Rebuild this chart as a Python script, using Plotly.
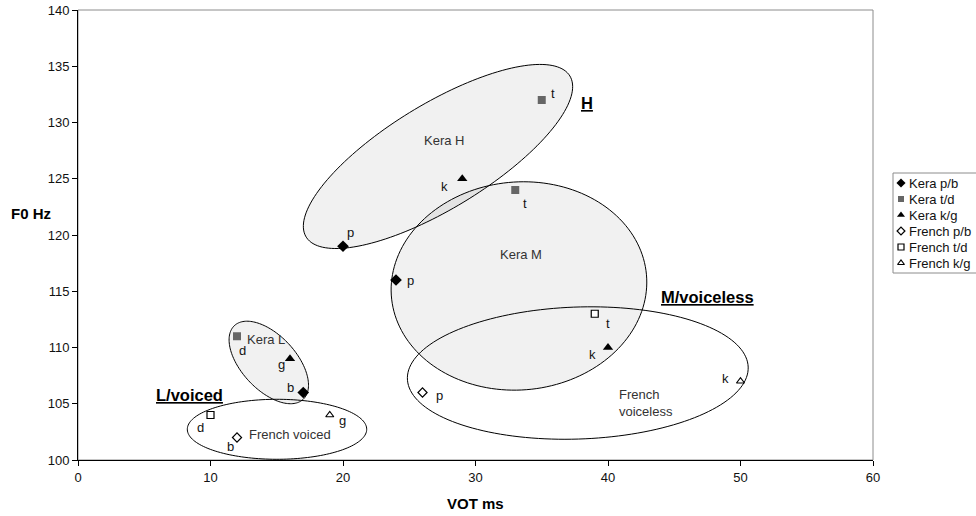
import numpy as np
import plotly.graph_objects as go

# ---- data: VOT (ms) and F0 (Hz) per stop consonant ----
kera_pb_vot = [20, 24, 17]
kera_pb_f0 = [119, 116, 106]
kera_pb_lab = ["p", "p", "b"]

kera_td_vot = [35, 33, 12]
kera_td_f0 = [132, 124, 111]
kera_td_lab = ["t", "t", "d"]

kera_kg_vot = [29, 40, 16]
kera_kg_f0 = [125, 110, 109]
kera_kg_lab = ["k", "k", "g"]

french_pb_vot = [26, 12]
french_pb_f0 = [106, 102]
french_pb_lab = ["p", "b"]

french_td_vot = [39, 10]
french_td_f0 = [113, 104]
french_td_lab = ["t", "d"]

french_kg_vot = [50, 19]
french_kg_f0 = [107, 104]
french_kg_lab = ["k", "g"]

series_names = ["Kera p/b", "Kera t/d", "Kera k/g", "French p/b", "French t/d", "French k/g"]

x_range = [0, 60]
y_range = [100, 140]
x_ticks = [0, 10, 20, 30, 40, 50, 60]
y_ticks = [100, 105, 110, 115, 120, 125, 130, 135, 140]

# ---- page geometry ----
W, H = 976, 516
ML, MT, MB = 78, 10, 56
PLOT_W, PLOT_H = 795, 450
PAPER_W = W - ML
XS = PLOT_W / (x_range[1] - x_range[0])   # px per ms
YS = PLOT_H / (y_range[1] - y_range[0])   # px per Hz

FONT = "Liberation Sans, Arial, sans-serif"

series = [
    (kera_pb_vot, kera_pb_f0, kera_pb_lab, dict(symbol="diamond", size=9, color="#000000")),
    (kera_td_vot, kera_td_f0, kera_td_lab, dict(symbol="square", size=8, color="#666666")),
    (kera_kg_vot, kera_kg_f0, kera_kg_lab, dict(symbol="triangle-up", size=9, color="#000000")),
    (french_pb_vot, french_pb_f0, french_pb_lab,
     dict(symbol="diamond", size=7, color="#ffffff", line=dict(color="#000000", width=1.2))),
    (french_td_vot, french_td_f0, french_td_lab,
     dict(symbol="square", size=7, color="#ffffff", line=dict(color="#000000", width=1.2))),
    (french_kg_vot, french_kg_f0, french_kg_lab,
     dict(symbol="triangle-up", size=7, color="#ffffff", line=dict(color="#000000", width=1.2))),
]

# letter label offsets (px, screen: +dx right, +dy down) per point
label_offsets = [
    [(7, -14), (14, 0), (-13, -5)],
    [(11, -7), (10, 13), (5, 14)],
    [(-18, 8), (-16, 7), (-9, 6)],
    [(17, 3), (-7, 9)],
    [(13, 10), (-10, 12)],
    [(-15, -3), (13, 5)],
]

fig = go.Figure()

annotations = []
for (xs, ys, labs, mk), offs, name in zip(series, label_offsets, series_names):
    fig.add_trace(go.Scatter(x=xs, y=ys, mode="markers", name=name, marker=mk,
                             showlegend=False, cliponaxis=False))
    for x, y, lab, (dx, dy) in zip(xs, ys, labs, offs):
        annotations.append(dict(x=x, y=y, xref="x", yref="y", text=lab, showarrow=False,
                                xshift=dx, yshift=-dy,
                                font=dict(family=FONT, size=13, color="#111111")))

# ---- group ellipses: centre in data units, semi-axes in px, tilt in degrees ----
ellipses = [
    # (cx, cy, a_px, b_px, angle_deg, filled)
    (27.17, 126.98, 154.5, 52.3, 31.4, True),    # Kera H
    (33.28, 115.47, 128.0, 104.0, 5.0, True),    # Kera M
    (14.40, 108.67, 50.4, 27.2, -47.0, True),    # Kera L
    (37.72, 107.73, 170.5, 66.0, 2.0, False),    # French voiceless
    (15.02, 102.73, 89.7, 30.0, 0.0, False),     # French voiced
]


def ellipse_path(cx, cy, a, b, ang):
    t = np.linspace(0, 2 * np.pi, 160)
    th = np.deg2rad(ang)
    u, v = a * np.cos(t), b * np.sin(t)
    dx = u * np.cos(th) - v * np.sin(th)
    dy = u * np.sin(th) + v * np.cos(th)
    px = cx + dx / XS
    py = cy + dy / YS
    pts = [f"{x:.4f},{y:.4f}" for x, y in zip(px, py)]
    return "M " + " L ".join(pts) + " Z"


shapes = []
# plot frame (top/right in grey)
shapes.append(dict(type="rect", xref="x domain", yref="y domain", x0=0, x1=1, y0=0, y1=1,
                   line=dict(color="#8c8c8c", width=1), layer="below"))
for cx, cy, a, b, ang, filled in ellipses:
    shapes.append(dict(type="path", xref="x", yref="y", path=ellipse_path(cx, cy, a, b, ang),
                       fillcolor="rgba(0,0,0,0.055)" if filled else "rgba(0,0,0,0)",
                       line=dict(color="#000000", width=1), layer="below"))

# group names
group_labels = [
    ("Kera H", 27.6, 128.4, "center"),
    ("Kera M", 33.4, 118.3, "center"),
    ("Kera L", 14.2, 110.75, "center"),
    ("French voiced", 16.0, 102.3, "center"),
    ("French<br>voiceless", 40.7, 105.05, "left"),
]
for txt, x, y, al in group_labels:
    annotations.append(dict(x=x, y=y, xref="x", yref="y", text=txt, showarrow=False,
                            xanchor=al, align=al,
                            font=dict(family=FONT, size=13, color="#333333")))

tone_labels = [
    ("H", 38.4, 131.75),
    ("M/voiceless", 47.5, 114.5),
    ("L/voiced", 8.4, 105.8),
]
for txt, x, y in tone_labels:
    annotations.append(dict(x=x, y=y, xref="x", yref="y", text=f"<b><u>{txt}</u></b>",
                            showarrow=False,
                            font=dict(family=FONT, size=16.5, color="#000000")))

# axis titles
annotations.append(dict(x=(30.5 - ML) / PAPER_W, y=1 - (213 - MT) / PLOT_H, xref="paper", yref="paper",
                        xanchor="center", yanchor="middle",
                        text="<b>F0 Hz</b>", showarrow=False,
                        font=dict(family=FONT, size=15, color="#000000")))
annotations.append(dict(x=30, y=1 - (503 - MT) / PLOT_H, xref="x", yref="paper",
                        xanchor="center", yanchor="middle",
                        text="<b>VOT ms</b>", showarrow=False,
                        font=dict(family=FONT, size=15, color="#000000")))

# ---- legend panel on its own pixel-scaled axes ----
LEG_X0 = 873
leg_row0, leg_step = 183, 16
leg_marker_x = 901
for i, ((_, _, _, mk), name) in enumerate(zip(series, series_names)):
    mk2 = dict(mk)
    mk2["size"] = max(mk["size"] - 2, 6)
    yrow = leg_row0 + i * leg_step
    fig.add_trace(go.Scatter(x=[leg_marker_x], y=[yrow], xaxis="x2", yaxis="y2", mode="markers",
                             marker=mk2, showlegend=False, hoverinfo="skip", cliponaxis=False))
    annotations.append(dict(x=leg_marker_x + 6, y=yrow, xref="x2", yref="y2", text=name,
                            showarrow=False, xanchor="left",
                            font=dict(family=FONT, size=13, color="#111111")))
shapes.append(dict(type="rect", xref="x2", yref="y2", x0=893, x1=990, y0=173, y1=273,
                   line=dict(color="#8c8c8c", width=1), layer="below"))

main_dom = PLOT_W / PAPER_W
fig.update_layout(
    width=W, height=H,
    margin=dict(l=ML, r=0, t=MT, b=MB, autoexpand=False),
    paper_bgcolor="#ffffff", plot_bgcolor="#ffffff",
    showlegend=False,
    shapes=shapes, annotations=annotations,
    xaxis=dict(domain=[0, main_dom], range=x_range, tickvals=x_ticks, showgrid=False, zeroline=False,
               showline=True, linecolor="#000000", linewidth=1, ticks="outside", ticklen=5,
               tickcolor="#000000", tickfont=dict(family=FONT, size=13, color="#111111")),
    yaxis=dict(domain=[0, 1], range=y_range, tickvals=y_ticks, showgrid=False, zeroline=False,
               showline=True, linecolor="#000000", linewidth=1, ticks="outside", ticklen=5,
               tickcolor="#000000", tickfont=dict(family=FONT, size=13, color="#111111")),
    xaxis2=dict(domain=[main_dom, 1], range=[LEG_X0, W], visible=False, anchor="y2"),
    yaxis2=dict(domain=[0, 1], range=[MT + PLOT_H, MT], visible=False, anchor="x2"),
)

fig.write_html("out.html")
